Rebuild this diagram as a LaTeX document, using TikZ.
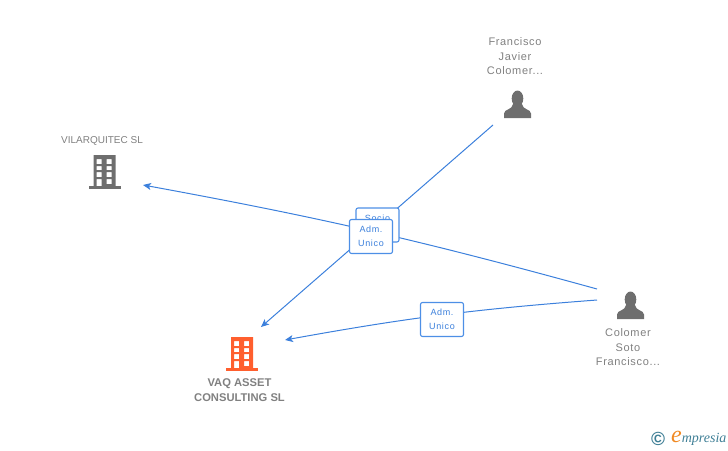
\documentclass[tikz,border=0pt]{standalone}
\usepackage{fontspec}
\setmainfont{Liberation Sans}
\newfontfamily\logofont{Liberation Serif}
\usetikzlibrary{arrows.meta}
\definecolor{linkblue}{HTML}{3C80DC}
\definecolor{badgeblue}{HTML}{4D8FE6}
\definecolor{iconorange}{HTML}{FF5F2E}
\definecolor{icongrey}{HTML}{6E6E6E}
\definecolor{labelgrey}{HTML}{808080}
\definecolor{logoteal}{HTML}{3F7F96}
\definecolor{logoorange}{HTML}{F08A24}
\tikzset{
link/.style={
  draw=linkblue,
  line width=1pt,
  -{Stealth[length=8pt,width=7pt,inset=2pt]}
  },
badge/.style={
  draw=badgeblue,
  fill=white,
  rounded corners=2pt,
  line width=1.1pt,
  minimum width=43pt,
  minimum height=34pt,
  inner sep=0pt,
  align=center,
  text=linkblue,
  font=\fontsize{9}{14.5}\selectfont\addfontfeature{LetterSpace=7}
  },
mylabel/.style={
  align=center,
  inner sep=0pt,
  text=labelgrey,
  font=\fontsize{11}{14.5}\selectfont\addfontfeature{LetterSpace=6}
  },
firmlabel/.style={
  align=center,
  inner sep=0pt,
  text=labelgrey,
  font=\fontsize{10}{14}\selectfont
  },
mainlabel/.style={
  align=center,
  inner sep=0pt,
  text=labelgrey,
  font=\fontsize{11.2}{15}\selectfont\bfseries
  },
pics/building/.style={
  code={
  \fill[#1,even odd rule]
    (-11,-17) rectangle (11,15)
    (-8,-13) rectangle (-3,-8)
    (2,-13) rectangle (7,-8)
    (-8,-6) rectangle (-3,-2)
    (2,-6) rectangle (7,-2)
    (-8,0) rectangle (-3,5)
    (2,0) rectangle (7,5)
    (-8,7) rectangle (-3,15)
    (2,7) rectangle (7,12);
  \fill[#1] (-16,14) rectangle (16,17);
  }
  },
pics/person/.style={
  code={
  \fill[icongrey] (0,7.5) ellipse (5.8 and 8);
  \fill[icongrey] (-13.5,27) -- (-13.5,22.5)
    .. controls (-13.5,18) and (-5,19) .. (-4.5,13)
    -- (4.5,13)
    .. controls (5,19) and (13.5,18) .. (13.5,22.5)
    -- (13.5,27) -- cycle;
  }
  }
}
\begin{document}
\begin{tikzpicture}[x=1pt, y=-1pt]
\useasboundingbox (0,0) rectangle (728,450);

\coordinate (francisco) at (493,125);
\coordinate (colomerTop) at (597,289);
\coordinate (colomerLow) at (597,300);
\coordinate (vilarquitec) at (143,185);
\coordinate (vaqTop) at (261,327);
\coordinate (vaqSide) at (285,340);

\draw[link] (francisco) -- (vaqTop);
\draw[link] (colomerTop) to[bend right=2.5] (vilarquitec);
\draw[link] (colomerLow) to[bend right=3] (vaqSide);

\node[badge] at (377.5,225) (socio) {Socio\\\mbox{}};
\node[badge] at (371,236.5) (admVilar) {Adm.\\Unico};
\node[badge] at (442,319.5) (admVaq) {Adm.\\Unico};

\pic at (104.5,172) {building=icongrey};
\pic at (242,354) {building=iconorange};
\pic at (517.5,91) {person};
\pic at (630.5,292) {person};

\node[firmlabel] at (102,141) (vilarLabel) {VILARQUITEC SL};
\node[mainlabel] at (239.5,390) (vaqLabel) {VAQ ASSET\\CONSULTING SL};
\node[mylabel] at (515,56.5) (franciscoLabel) {Francisco\\Javier\\Colomer...};
\node[mylabel] at (628,347.5) (colomerLabel) {Colomer\\Soto\\Francisco...};

\node[text=logoteal, inner sep=0pt, font=\fontsize{19}{19}\selectfont\bfseries] at (658,438.5) (copyright) {©};
\node[anchor=west, inner sep=0pt, text=logoteal, font=\fontsize{14}{14}\selectfont\logofont\itshape] at (671,438) (logo)
  {{\color{logoorange}\fontsize{24}{24}\selectfont e}mpresia};
\end{tikzpicture}
\end{document}
